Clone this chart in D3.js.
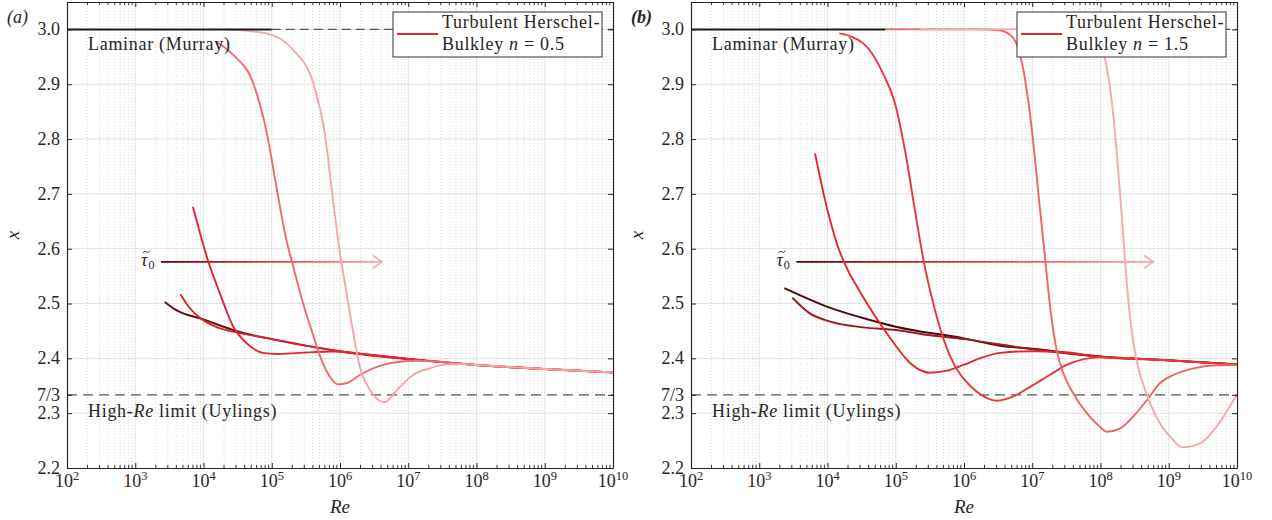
<!DOCTYPE html>
<html>
<head>
<meta charset="utf-8">
<script src="https://cdn.jsdelivr.net/npm/d3@7"></script>
<style>
  body { margin: 0; background: #fff; }
  text { font-family: 'Liberation Serif', 'Times New Roman', serif; fill: #262626; }
</style>
</head>
<body>
<script>
var WIDTH = 1272, HEIGHT = 520;
var TOP = 2, BOTTOM = 468;

// x-range and y-range of both panels
var reDomain = [1e2, 1e10];
var xDomain = [2.2, 3.05];
var yTicks = [2.2, 2.3, 7 / 3, 2.4, 2.5, 2.6, 2.7, 2.8, 2.9, 3.0];
var yTickLabels = ['2.2', '2.3', '7/3', '2.4', '2.5', '2.6', '2.7', '2.8', '2.9', '3.0'];
var reExponents = [2, 3, 4, 5, 6, 7, 8, 9, 10];

// panel (a): n = 0.5, curves as [Re, x]
var curvesA = [
  [[2.7e3, 2.503], [4e3, 2.488], [1e4, 2.471], [3e4, 2.45], [1e5, 2.435], [1e6, 2.413], [1e7, 2.399], [1e8, 2.388], [1e9, 2.3805], [1e10, 2.3745]],
  [[4.6e3, 2.517], [6e3, 2.495], [9e3, 2.473], [1.5e4, 2.458], [3.4e4, 2.446], [7e4, 2.439], [2e5, 2.428], [1e6, 2.4125], [1e7, 2.3985], [1e8, 2.3877], [1e9, 2.3803], [1e10, 2.3743]],
  [[7e3, 2.6765], [1.18e4, 2.576], [1.74e4, 2.5186], [2.73e4, 2.4577], [4.3e4, 2.4274], [7.5e4, 2.41], [1.17e5, 2.4079], [2.57e5, 2.41], [8e5, 2.4125], [3e6, 2.406], [1e7, 2.399], [1e8, 2.388], [1e9, 2.3805], [1e10, 2.3745]],
  [[1.55e4, 2.977], [2.75e4, 2.953], [5.37e4, 2.9015], [8.5e4, 2.81], [1.17e5, 2.713], [1.58e5, 2.625], [2.14e5, 2.56], [2.88e5, 2.5], [3.98e5, 2.445], [5.25e5, 2.4], [7.08e5, 2.367], [9.33e5, 2.3526], [1.26e6, 2.355], [1.95e6, 2.3696], [4.27e6, 2.388], [1.32e7, 2.3955], [1e8, 2.388], [1e9, 2.3805], [1e10, 2.3745]],
  [[2.2e4, 3.0], [8.4e4, 2.9927], [2.07e5, 2.962], [4.07e5, 2.9015], [6e5, 2.81], [7.9e5, 2.6887], [1e6, 2.5915], [1.25e6, 2.5186], [1.57e6, 2.4456], [1.95e6, 2.3847], [2.75e6, 2.3422], [4.5e6, 2.3198], [6.8e6, 2.342], [1.17e7, 2.3696], [2.1e7, 2.382], [3.6e7, 2.389], [6.5e7, 2.3895], [1e8, 2.388], [1e9, 2.3805], [1e10, 2.3745]]
];
var colorsA = ['#6b0e13', '#d8232a', '#e5262c', '#ef6a6e', '#f5a6a8'];

// panel (b): n = 1.5
var curvesB = [
  [[2.33e3, 2.528], [1e4, 2.494], [4.2e4, 2.47], [1e5, 2.4577], [1e6, 2.4365], [3.4e6, 2.423], [1e7, 2.4175], [1e8, 2.4035], [1e9, 2.3965], [1e10, 2.389]],
  [[3.05e3, 2.5105], [5.5e3, 2.482], [1.1e4, 2.467], [3.3e4, 2.4566], [1e5, 2.4516], [3e5, 2.4425], [1e6, 2.435], [1e7, 2.4165], [1e8, 2.403], [1e9, 2.3963], [1e10, 2.3888]],
  [[6.56e3, 2.7738], [1e4, 2.67], [1.41e4, 2.605], [2e4, 2.56], [2.82e4, 2.527], [3.98e4, 2.496], [6.31e4, 2.458], [1e5, 2.423], [1.58e5, 2.393], [2.51e5, 2.3765], [3.16e5, 2.3738], [5.6e5, 2.3775], [9.8e5, 2.388], [1.7e6, 2.4], [3.4e6, 2.41], [1e7, 2.413], [3e7, 2.411], [1e8, 2.4025], [1e9, 2.3963], [1e10, 2.3888]],
  [[1.49e4, 2.9927], [3.34e4, 2.9745], [6.6e4, 2.918], [1e5, 2.86], [1.41e5, 2.77], [1.91e5, 2.67], [2.57e5, 2.577], [3.55e5, 2.5], [5.01e5, 2.435], [7.08e5, 2.39], [1e6, 2.362], [1.58e6, 2.338], [3e6, 2.3227], [5.2e6, 2.33], [9.3e6, 2.348], [1.8e7, 2.3696], [3.2e7, 2.388], [9.8e7, 2.4018], [3e8, 2.4], [1e9, 2.3963], [1e10, 2.3888]],
  [[7e4, 3.0], [1.5e6, 3.0], [3.4e6, 2.998], [5.2e6, 2.985], [7.4e6, 2.927], [8.7e6, 2.871], [1.04e7, 2.792], [1.23e7, 2.701], [1.5e7, 2.5975], [1.9e7, 2.476], [2.28e7, 2.415], [2.86e7, 2.3727], [4e7, 2.336], [6.3e7, 2.3], [9.8e7, 2.2753], [1.23e8, 2.2662], [1.95e8, 2.2724], [3e8, 2.2935], [4.8e8, 2.324], [7.4e8, 2.3545], [1.17e9, 2.3696], [2.3e9, 2.3818], [5e9, 2.3873], [1e10, 2.3878]],
  [[2.3e5, 3.0], [3e7, 3.0], [6e7, 2.996], [8.2e7, 2.985], [9.8e7, 2.9745], [1.23e8, 2.932], [1.55e8, 2.8406], [1.8e8, 2.75], [2.05e8, 2.66], [2.3e8, 2.575], [2.63e8, 2.49], [3.02e8, 2.43], [3.55e8, 2.385], [4.8e8, 2.333], [7.4e8, 2.2815], [1.17e9, 2.251], [1.55e9, 2.2377], [2.9e9, 2.245], [5e9, 2.2753], [1e10, 2.3344]]
];
var colorsB = ['#4d0a0d', '#9b1b20', '#e3262c', '#e9363b', '#f06468', '#f6a9ab'];

var laminarX = 3.0, uylingsX = 7 / 3;
var laminarEndA = 1e5, laminarEndB = 7e4;
var tauArrowA = [2.38e3, 4.1e6], tauArrowB = [3.5e3, 5.9e8], tauX = 2.576;
var arrowStops = [[0, '#4a0507'], [0.3, '#b81a20'], [0.55, '#e9464b'], [1, '#f6a9ab']];

var FONT = '18px', SPACING = '0.7px';

var svg = d3.select('body').append('svg').attr('width', WIDTH).attr('height', HEIGHT);
var defs = svg.append('defs');

drawPanel({ left: 67, right: 613, tag: '(a)', bold: false, curves: curvesA, colors: colorsA,
  laminarEnd: laminarEndA, arrow: tauArrowA, n: '0.5', id: 'a' });
drawPanel({ left: 691, right: 1237, tag: '(b)', bold: true, curves: curvesB, colors: colorsB,
  laminarEnd: laminarEndB, arrow: tauArrowB, n: '1.5', id: 'b' });

function drawPanel(p) {
  var x = d3.scaleLog().domain(reDomain).range([p.left, p.right]);
  var y = d3.scaleLinear().domain(xDomain).range([BOTTOM, TOP]);
  var g = svg.append('g');

  defs.append('clipPath').attr('id', 'clip' + p.id).append('rect')
    .attr('x', p.left).attr('y', TOP).attr('width', p.right - p.left).attr('height', BOTTOM - TOP);

  // minor grid (log decades)
  var minor = [];
  for (var e = 2; e < 10; e++) for (var m = 2; m < 10; m++) minor.push(m * Math.pow(10, e));
  g.append('g').selectAll('line').data(minor).enter().append('line')
    .attr('x1', d => x(d)).attr('x2', d => x(d)).attr('y1', TOP).attr('y2', BOTTOM)
    .attr('stroke', '#cfcfcf').attr('stroke-width', 0.8).attr('stroke-dasharray', '1,2');

  // major grid
  var majors = reExponents.slice(1, -1).map(e => Math.pow(10, e));
  g.append('g').selectAll('line').data(majors).enter().append('line')
    .attr('x1', d => x(d)).attr('x2', d => x(d)).attr('y1', TOP).attr('y2', BOTTOM)
    .attr('stroke', '#e3e3e3').attr('stroke-width', 1);
  g.append('g').selectAll('line').data(yTicks.filter(v => v > 2.2 && v < 3.04 && Math.abs(v - 7 / 3) > 1e-6)).enter().append('line')
    .attr('x1', p.left).attr('x2', p.right).attr('y1', d => y(d)).attr('y2', d => y(d))
    .attr('stroke', '#e3e3e3').attr('stroke-width', 1);

  // reference lines
  g.append('line').attr('x1', x(p.laminarEnd)).attr('x2', x(reDomain[1]))
    .attr('y1', y(laminarX)).attr('y2', y(laminarX))
    .attr('stroke', '#555').attr('stroke-width', 1.2).attr('stroke-dasharray', '9,5');
  g.append('line').attr('x1', x(reDomain[0])).attr('x2', x(reDomain[1]))
    .attr('y1', y(uylingsX)).attr('y2', y(uylingsX))
    .attr('stroke', '#555').attr('stroke-width', 1.4).attr('stroke-dasharray', '10,6');

  // tau arrow with gradient
  var gradId = 'grad' + p.id;
  var grad = defs.append('linearGradient').attr('id', gradId).attr('gradientUnits', 'userSpaceOnUse')
    .attr('x1', x(p.arrow[0])).attr('x2', x(p.arrow[1])).attr('y1', 0).attr('y2', 0);
  arrowStops.forEach(s => grad.append('stop').attr('offset', s[0]).attr('stop-color', s[1]));
  var ay = y(tauX), ax0 = x(p.arrow[0]), ax1 = x(p.arrow[1]);
  g.append('line').attr('x1', ax0).attr('x2', ax1)
    .attr('y1', ay).attr('y2', ay).attr('stroke', 'url(#' + gradId + ')').attr('stroke-width', 1.8);
  g.append('path')
    .attr('d', 'M' + (ax1 - 9) + ',' + (ay - 6.5) + 'L' + ax1 + ',' + ay + 'L' + (ax1 - 9) + ',' + (ay + 6.5))
    .attr('fill', 'none').attr('stroke', arrowStops[arrowStops.length - 1][1]).attr('stroke-width', 1.8);
  // tau-tilde-zero label (tilde drawn as a small wave)
  var tau = g.append('text').attr('x', ax0 - 20).attr('y', ay + 4).style('font-size', FONT);
  tau.append('tspan').style('font-style', 'italic').text('\u03c4');
  tau.append('tspan').attr('dx', 1).attr('dy', 3).style('font-size', '12px').text('0');
  var tx = ax0 - 14.5, ty = ay - 10;
  g.append('path')
    .attr('d', 'M' + (tx - 3.5) + ',' + (ty + 1) + 'Q' + (tx - 1.8) + ',' + (ty - 1.5) + ' ' + tx + ',' + ty +
      'T' + (tx + 3.5) + ',' + (ty - 1))
    .attr('fill', 'none').attr('stroke', '#262626').attr('stroke-width', 0.9);

  // curves, darkest first
  var line = d3.line().x(d => x(d[0])).y(d => y(d[1])).curve(d3.curveMonotoneX);
  var cg = g.append('g').attr('clip-path', 'url(#clip' + p.id + ')');
  cg.selectAll('path').data(p.curves).enter().append('path')
    .attr('d', line).attr('fill', 'none')
    .attr('stroke', (d, i) => p.colors[i]).attr('stroke-width', 1.9);

  // laminar solid part
  g.append('line').attr('x1', x(reDomain[0])).attr('x2', x(p.laminarEnd))
    .attr('y1', y(laminarX)).attr('y2', y(laminarX))
    .attr('stroke', '#1a1a1a').attr('stroke-width', 2);

  // annotations
  g.append('text').attr('x', p.left + 21).attr('y', 50).style('font-size', FONT)
    .style('letter-spacing', SPACING).text('Laminar (Murray)');
  var hi = g.append('text').attr('x', p.left + 21).attr('y', 417).style('font-size', FONT)
    .style('letter-spacing', SPACING);
  hi.append('tspan').text('High-');
  hi.append('tspan').style('font-style', 'italic').text('Re');
  hi.append('tspan').text(' limit (Uylings)');

  // axes (ticks inside, box)
  var axisColor = '#262626';
  var bottomAxis = d3.axisBottom(x).tickValues(reExponents.map(e => Math.pow(10, e))).tickFormat('').tickSizeInner(-5).tickSizeOuter(0);
  var topAxis = d3.axisTop(x).tickValues(reExponents.map(e => Math.pow(10, e))).tickFormat('').tickSizeInner(-5).tickSizeOuter(0);
  var leftAxis = d3.axisLeft(y).tickValues(yTicks).tickFormat('').tickSizeInner(-5).tickSizeOuter(0);
  var rightAxis = d3.axisRight(y).tickValues(yTicks).tickFormat('').tickSizeInner(-5).tickSizeOuter(0);
  var axes = [
    g.append('g').attr('transform', 'translate(0,' + BOTTOM + ')').call(bottomAxis),
    g.append('g').attr('transform', 'translate(0,' + TOP + ')').call(topAxis),
    g.append('g').attr('transform', 'translate(' + p.left + ',0)').call(leftAxis),
    g.append('g').attr('transform', 'translate(' + p.right + ',0)').call(rightAxis)
  ];
  axes.forEach(a => {
    a.select('.domain').attr('stroke', axisColor).attr('stroke-width', 1.2);
    a.selectAll('.tick line').attr('stroke', axisColor).attr('stroke-width', 1);
  });
  // minor ticks on top and bottom
  [[BOTTOM, -3], [TOP, 3]].forEach(function (t) {
    g.append('g').selectAll('line').data(minor).enter().append('line')
      .attr('x1', d => x(d)).attr('x2', d => x(d)).attr('y1', t[0]).attr('y2', t[0] + t[1])
      .attr('stroke', axisColor).attr('stroke-width', 0.9);
  });

  // tick labels
  g.append('g').selectAll('text').data(yTicks).enter().append('text')
    .attr('x', p.left - 7).attr('y', d => y(d)).attr('dy', '0.33em')
    .attr('text-anchor', 'end').style('font-size', FONT)
    .text((d, i) => yTickLabels[i]);
  var xl = g.append('g').selectAll('text').data(reExponents).enter().append('text')
    .attr('x', d => x(Math.pow(10, d))).attr('y', 487)
    .attr('text-anchor', 'middle').style('font-size', FONT);
  xl.append('tspan').text('10');
  xl.append('tspan').attr('dy', -7).style('font-size', '12.5px').text(d => d);

  // axis titles
  g.append('text').attr('x', (p.left + p.right) / 2).attr('y', 513).attr('text-anchor', 'middle')
    .style('font-size', '19px').style('font-style', 'italic').text('Re');
  g.append('text').attr('transform', 'translate(' + (p.left - 48) + ',' + ((TOP + BOTTOM) / 2) + ') rotate(-90)')
    .attr('text-anchor', 'middle').style('font-size', '19px').style('font-style', 'italic').text('x');
  g.append('text').attr('x', p.left - 60).attr('y', 23).style('font-size', '18px')
    .style('font-style', 'italic').style('font-weight', p.bold ? 'bold' : 'normal').text(p.tag);

  // legend
  var lx = p.left + 326, ly = 12;
  var lg = g.append('g');
  lg.append('rect').attr('x', lx).attr('y', ly).attr('width', 209).attr('height', 45)
    .attr('fill', '#fff').attr('stroke', '#333').attr('stroke-width', 1);
  lg.append('line').attr('x1', lx + 4).attr('x2', lx + 45).attr('y1', ly + 22).attr('y2', ly + 22)
    .attr('stroke', '#e3262c').attr('stroke-width', 2);
  lg.append('text').attr('x', lx + 49).attr('y', ly + 16).style('font-size', FONT)
    .style('letter-spacing', SPACING).text('Turbulent Herschel-');
  var l2 = lg.append('text').attr('x', lx + 49).attr('y', ly + 38).style('font-size', FONT)
    .style('letter-spacing', SPACING);
  l2.append('tspan').text('Bulkley ');
  l2.append('tspan').style('font-style', 'italic').text('n');
  l2.append('tspan').text(' = ' + p.n);
}
</script>
</body>
</html>
